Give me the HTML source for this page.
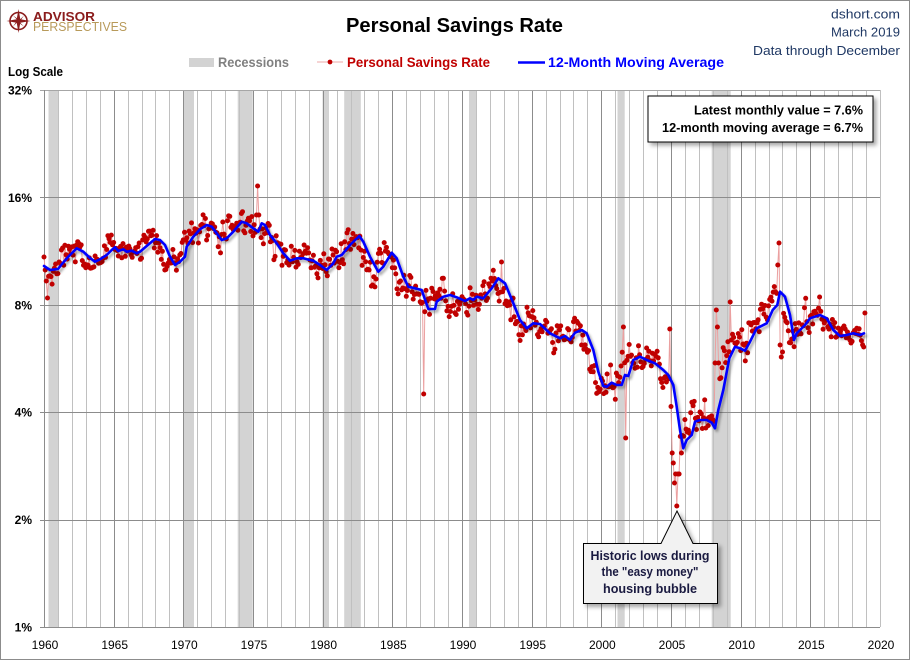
<!DOCTYPE html>
<html><head><meta charset="utf-8"><style>
html,body{margin:0;padding:0;background:#fff;}
svg{display:block;}
text{font-family:"Liberation Sans",Arial,sans-serif;}
</style></head><body>
<svg id="c" width="910" height="661" viewBox="0 0 910 661" xmlns="http://www.w3.org/2000/svg">
<defs>
<filter id="sh" x="-5%" y="-5%" width="115%" height="115%"><feDropShadow dx="2" dy="2.5" stdDeviation="1.4" flood-color="#000" flood-opacity="0.35"/></filter>
<filter id="bs" x="-10%" y="-10%" width="125%" height="130%"><feDropShadow dx="3" dy="3" stdDeviation="2" flood-color="#000" flood-opacity="0.35"/></filter>
</defs>
<rect x="0" y="0" width="910" height="661" fill="#fff"/>
<rect x="0.5" y="0.5" width="909" height="659" fill="none" stroke="#8c8c8c" stroke-width="1"/>
<g id="rec" fill="#d3d3d3"></g>
<g id="grid"></g>
<g id="data"></g>
<!-- Logo -->
<g>
<circle cx="18.5" cy="21" r="8.5" fill="none" stroke="#8b1c1c" stroke-width="1.6"/>
<polygon points="18.5,9 20.3,19.2 30.5,21 20.3,22.8 18.5,33 16.7,22.8 6.5,21 16.7,19.2" fill="#8b1c1c"/>
<polygon points="13,15.5 19.5,20 24,15.5 19.5,22 24,26.5 17.5,22 13,26.5 17.5,20" fill="#8b1c1c"/>
<text x="33" y="21" font-size="12.5" font-weight="bold" fill="#8b1c1c" textLength="62" lengthAdjust="spacingAndGlyphs">ADVISOR</text>
<text x="33" y="31" font-size="12.5" fill="#b89a5a" textLength="94" lengthAdjust="spacingAndGlyphs">PERSPECTIVES</text>
</g>
<text x="346" y="32" font-size="20" font-weight="bold" fill="#000" textLength="217" lengthAdjust="spacingAndGlyphs">Personal Savings Rate</text>
<text x="900" y="18.5" font-size="13" fill="#1f3864" text-anchor="end" textLength="69" lengthAdjust="spacingAndGlyphs">dshort.com</text>
<text x="900" y="36.5" font-size="13" fill="#1f3864" text-anchor="end" textLength="69" lengthAdjust="spacingAndGlyphs">March 2019</text>
<text x="900" y="55" font-size="13" fill="#1f3864" text-anchor="end" textLength="147" lengthAdjust="spacingAndGlyphs">Data through December</text>
<!-- legend -->
<rect x="189" y="58" width="25" height="9" fill="#d3d3d3"/>
<text x="218" y="67" font-size="14" font-weight="bold" fill="#808080" textLength="71" lengthAdjust="spacingAndGlyphs">Recessions</text>
<line x1="317" y1="62" x2="343" y2="62" stroke="#eeaaaa" stroke-width="1"/>
<circle cx="330" cy="62" r="2.4" fill="#c00000"/>
<text x="347" y="67" font-size="14" font-weight="bold" fill="#c00000" textLength="143" lengthAdjust="spacingAndGlyphs">Personal Savings Rate</text>
<line x1="518" y1="62.5" x2="545" y2="62.5" stroke="#0000ff" stroke-width="2.5"/>
<text x="548" y="67" font-size="14" font-weight="bold" fill="#0000ff" textLength="176" lengthAdjust="spacingAndGlyphs">12-Month Moving Average</text>
<text x="8" y="76" font-size="13" font-weight="bold" fill="#000" textLength="55" lengthAdjust="spacingAndGlyphs">Log Scale</text>
<g id="labels" font-size="12" fill="#000"></g>
<!-- annotation box -->
<rect x="648" y="96" width="225" height="46" fill="#fff" stroke="#000" stroke-width="1" filter="url(#bs)"/>
<text x="863" y="114.5" font-size="13" font-weight="bold" fill="#000" text-anchor="end" textLength="169" lengthAdjust="spacingAndGlyphs">Latest monthly value = 7.6%</text>
<text x="863" y="132" font-size="13" font-weight="bold" fill="#000" text-anchor="end" textLength="201" lengthAdjust="spacingAndGlyphs">12-month moving average = 6.7%</text>
<!-- callout -->
<path d="M583.5,543.5 L661,543.5 L677,511 L693,543.5 L717.5,543.5 L717.5,603.5 L583.5,603.5 Z" fill="#f2f2f2" stroke="#000" stroke-width="1" filter="url(#bs)"/>
<text x="650" y="560" font-size="13" font-weight="bold" fill="#1a1a40" text-anchor="middle" textLength="119" lengthAdjust="spacingAndGlyphs">Historic lows during</text>
<text x="650" y="576" font-size="13" font-weight="bold" fill="#1a1a40" text-anchor="middle" textLength="97" lengthAdjust="spacingAndGlyphs">the "easy money"</text>
<text x="650" y="593" font-size="13" font-weight="bold" fill="#1a1a40" text-anchor="middle" textLength="94" lengthAdjust="spacingAndGlyphs">housing bubble</text>
</svg>
<script>
(function(){
var NS="http://www.w3.org/2000/svg";
var X0=44,PX=13.9333,YT=90,YB=627,PD=(YB-YT)/5;
function el(tag,attrs,parent){var e=document.createElementNS(NS,tag);for(var k in attrs)e.setAttribute(k,attrs[k]);parent.appendChild(e);return e;}
var rec=document.getElementById('rec');
[[48.5,58.5],[183.7,194],[237.7,252.7],[322.5,329],[344.2,360.8],[469,476],[617.5,624.7],[711.7,730.7]].forEach(function(r){
 el('rect',{x:r[0],y:YT,width:r[1]-r[0],height:YB-YT},rec);});
var g=document.getElementById('grid');
for(var yr=1961;yr<=2020;yr++){
 var x=Math.round(X0+(yr-1960)*PX)+0.5;
 var major=(yr%5==0&&yr!=2020);
 el('line',{x1:x,y1:YT,x2:x,y2:YB,stroke:major?'#8c8c8c':'#c0c0c0','stroke-width':1},g);
}
for(var k=0;k<5;k++){
 var y=Math.round(YT+k*PD)+0.5;
 el('line',{x1:40,y1:y,x2:880,y2:y,stroke:k==0?'#a6a6a6':'#8c8c8c','stroke-width':1},g);
}
el('line',{x1:44.5,y1:YT,x2:44.5,y2:YB,stroke:'#8c8c8c','stroke-width':1},g);
el('line',{x1:40,y1:YB+0.5,x2:880,y2:YB+0.5,stroke:'#8c8c8c','stroke-width':1},g);
var lab=document.getElementById('labels');
['32%','16%','8%','4%','2%','1%'].forEach(function(t,i){
 var e=el('text',{x:32,y:YT+i*PD+4.5,'text-anchor':'end','font-weight':'bold'},lab);e.textContent=t;});
for(var yr=1960;yr<=2020;yr+=5){
 var e=el('text',{x:X0+(yr-1960)*PX+1,y:649,'text-anchor':'middle'},lab);e.textContent=String(yr);}
var MA=[[44,266],[50,270],[58,269],[62,264],[68,257],[76.7,248.3],[83.3,251.7],[90,258],[95,261.7],[100,259.3],[106.7,255],[111.7,250],[115,247.3],[118.3,251],[123.3,249.3],[126.7,251.7],[131.7,250.7],[136.7,253.3],[140,251.7],[146.7,246],[155,239],[160,240],[165,245],[170,256.7],[175,265],[180,261.7],[185,256.7],[186.7,246.7],[193.3,236.7],[200,229.3],[206.7,225],[211.7,226.7],[216.7,233.3],[221.7,240],[226.7,238.3],[233.3,231.7],[241.7,221.7],[246.7,223.3],[253.3,228.3],[258.3,231.7],[261.7,223.3],[265,225],[270,235],[276.7,243.3],[283.3,253.3],[290,260.7],[296.7,258.3],[303.3,258.3],[310,260],[313.3,260.7],[320,265],[326.7,270],[333.3,263.3],[336.7,256.7],[341.7,255],[350,245],[359.3,236],[363.3,241.7],[370,256.7],[378.3,271.7],[383.3,266.7],[391.7,252.7],[396.7,258.3],[403.3,276.7],[408.3,286.7],[415,288.3],[421.7,290],[428.3,309],[435,309],[436.7,301.7],[443.3,296.7],[450,295],[456.7,297.3],[465,301],[470,298.3],[473.3,300],[476.7,296.7],[483.3,298.3],[491.7,288.3],[498.3,278.3],[505,283.3],[513.3,303.3],[520,320],[526.7,328.3],[533.3,323.3],[540,324],[550,333.3],[560,338.3],[565,336],[570,340],[575,332.7],[581.7,330],[586.7,333.3],[593.3,350],[598.3,371.7],[603.3,386],[606.7,386.7],[611.7,382.7],[616.7,385],[621.7,385],[625,375],[628.3,376],[633.3,360],[640,356.7],[646.7,360],[655,363.3],[663.3,370],[668.3,375],[673.3,385],[676.7,406.7],[680,430],[683.3,448.3],[686.7,440],[691.7,435],[695,421.7],[700,420],[706.7,420],[711.7,422.7],[715,428.3],[718.3,410],[723.3,390],[729.3,358.3],[735,346.7],[740,348.3],[745,350.7],[750,341.7],[756.7,328.3],[766.7,323.3],[772.7,310],[777.3,305],[780,291.7],[785,296.7],[790,315],[794,340],[796.7,333.3],[805,325],[810,318.3],[820,315],[826.7,318.3],[833.3,330],[840,336],[846.7,335],[853.3,333.3],[860,335],[864,333.3]];
function maY(x){if(x<=MA[0][0])return MA[0][1];for(var k=1;k<MA.length;k++){if(x<=MA[k][0]){var a=MA[k-1],b=MA[k];return a[1]+(b[1]-a[1])*(x-a[0])/(b[0]-a[0]);}}return MA[MA.length-1][1];}
function mulberry32(a){return function(){a|=0;a=a+0x6D2B79F5|0;var t=Math.imul(a^a>>>15,1|a);t=t+Math.imul(t^t>>>7,61|t)^t;return((t^t>>>14)>>>0)/4294967296;};}
var rnd=mulberry32(20190315);
function sd(x){if(x<184)return 6.8;if(x<370)return 8.5;if(x<470)return 9;if(x<590)return 7.5;if(x<770)return 10;return 7.5;}
var OV={0:257,1:270,2:281,3:298,183:215,184:186,185:215,327:394,394:262,499:327,501:438,539:329,541:453,542:463,543:483,544:474,545:506,546:474,547:474,549:453,578:363,579:310,580:327,581:363,591:302,592:340,632:265,633:243,634:345,635:357,636:352,706:347,707:313};
var pts=[],n=0;
for(var i=0;i<708;i++){
 var x=X0+i*PX/12;
 var gs=(rnd()+rnd()+rnd()+rnd()-2)*1.73;
 n=0.35*n+0.92*gs;
 var y=maY(x+6)+sd(x)*n;
 if(OV[i]!==undefined)y=OV[i];
 if(y<YT+3)y=YT+3;
 pts.push([x,y]);
}
var d=document.getElementById('data');
el('polyline',{points:pts.map(function(p){return p[0].toFixed(1)+','+p[1].toFixed(1);}).join(' '),fill:'none',stroke:'#eba0a0','stroke-width':1},d);
var dg=el('g',{fill:'#c00000'},d);
pts.forEach(function(p){el('circle',{cx:p[0].toFixed(1),cy:p[1].toFixed(1),r:2.5},dg);});
el('polyline',{points:MA.map(function(p){return p[0]+','+p[1];}).join(' '),fill:'none',stroke:'#0000ff','stroke-width':2.6,'stroke-linejoin':'round','stroke-linecap':'round',filter:'url(#sh)'},d);
})();
</script>
</body></html>
